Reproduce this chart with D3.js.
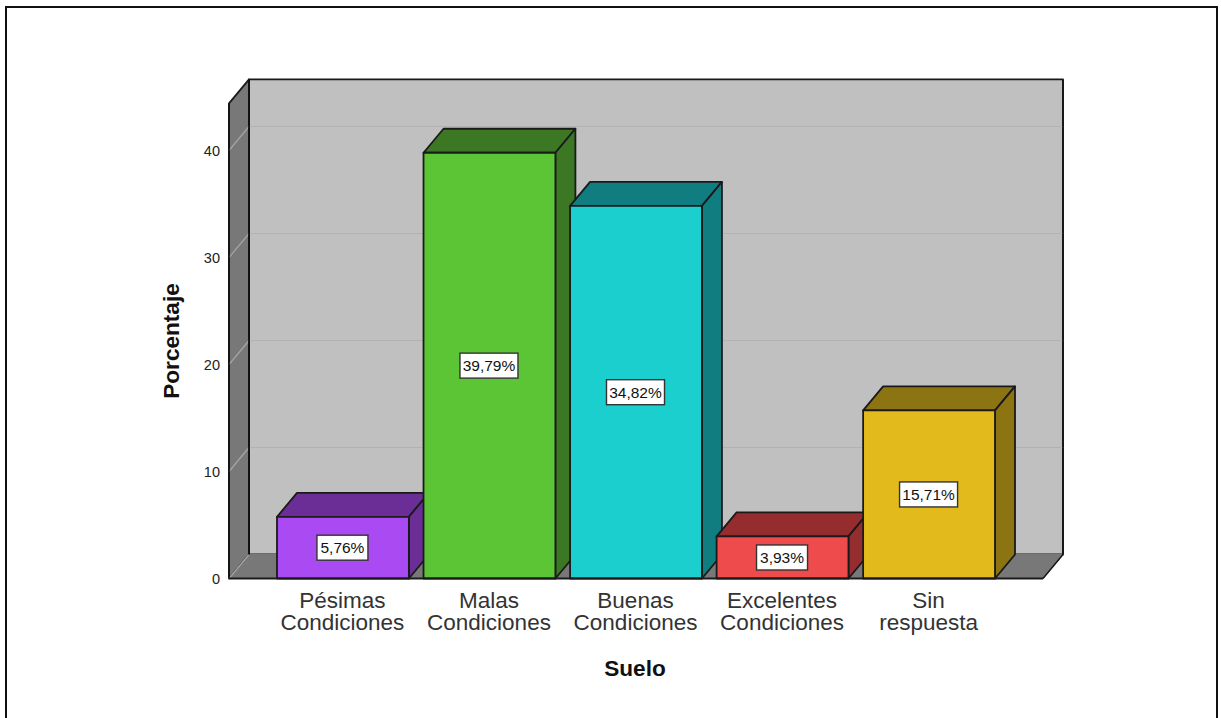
<!DOCTYPE html>
<html><head><meta charset="utf-8">
<script src="https://cdn.jsdelivr.net/npm/d3@7"></script>
<style>
html,body{margin:0;padding:0;background:#fff;overflow:hidden}
svg{display:block;font-family:"Liberation Sans",Arial,sans-serif}
</style></head><body><div id="c"></div>
<script>
const categories = [["Pésimas","Condiciones"],["Malas","Condiciones"],["Buenas","Condiciones"],["Excelentes","Condiciones"],["Sin","respuesta"]];
const values = [5.76,39.79,34.82,3.93,15.71];
const labels = ["5,76%","39,79%","34,82%","3,93%","15,71%"];
const frontColors = ["#a94af2","#5cc536","#1bcfcf","#ee4b4d","#e2ba1c"];
const sideColors = ["#6a2e96","#3c7824","#107d80","#952c2e","#8c7412"];
const yTicks = [0,10,20,30,40];
const yTitle = "Porcentaje", xTitle = "Suelo";

const W=1221,H=718, dx=20, dy=-24;
const plotLeft=229,plotRight=1043,y0=578.5,yMaxVal=44.4;
const y=d3.scaleLinear().domain([0,40]).range([y0,150.5]);
const x=d3.scaleBand().domain(d3.range(categories.length)).range([277,995]).paddingInner(0.1);
const plotTop=y(yMaxVal);
const svg=d3.select("#c").append("svg").attr("width",W).attr("height",H);
const pathGen=d3.line();
const poly=(g,pts,fill,stroke="#1a1a1a",sw=1.8)=>g.append("path").attr("d",pathGen(pts)+"Z")
  .attr("fill",fill).attr("stroke",stroke).attr("stroke-width",sw).attr("stroke-linejoin","round");

// frame
svg.append("rect").attr("x",6).attr("y",7).attr("width",1211).attr("height",730)
  .attr("fill","#fff").attr("stroke","#111").attr("stroke-width",2);

// walls
poly(svg,[[plotLeft+dx,plotTop+dy],[plotRight+dx,plotTop+dy],[plotRight+dx,y0+dy],[plotLeft+dx,y0+dy]],"#c0c0c0");
poly(svg,[[plotLeft,plotTop],[plotLeft+dx,plotTop+dy],[plotLeft+dx,y0+dy],[plotLeft,y0]],"#787878");
poly(svg,[[plotLeft,y0],[plotLeft+dx,y0+dy],[plotRight+dx,y0+dy],[plotRight,y0]],"#787878","#787878",1);

// gridlines
yTicks.forEach(t=>{
  if(t>0) svg.append("line").attr("x1",plotLeft+dx).attr("x2",plotRight+dx).attr("y1",y(t)+dy).attr("y2",y(t)+dy)
    .attr("stroke","#b2b2b2").attr("stroke-width",1.2);
  svg.append("line").attr("x1",plotLeft).attr("x2",plotLeft+dx).attr("y1",y(t)).attr("y2",y(t)+dy)
    .attr("stroke","#a6a6a6").attr("stroke-width",1.2);
});
// redraw edges over grid
svg.append("line").attr("x1",plotLeft+dx).attr("x2",plotLeft+dx).attr("y1",plotTop+dy).attr("y2",y0+dy).attr("stroke","#111").attr("stroke-width",1.8);
svg.append("line").attr("x1",plotRight+dx).attr("x2",plotRight+dx).attr("y1",plotTop+dy).attr("y2",y0+dy).attr("stroke","#111").attr("stroke-width",1.4);
svg.append("line").attr("x1",plotLeft).attr("x2",plotLeft).attr("y1",plotTop).attr("y2",y0).attr("stroke","#111").attr("stroke-width",1.6);
svg.append("line").attr("x1",plotRight).attr("x2",plotRight+dx).attr("y1",y0).attr("y2",y0+dy).attr("stroke","#111").attr("stroke-width",1.4);

// bars
values.forEach((v,i)=>{
  const g=svg.append("g");
  const a=x(i),b=x(i)+x.bandwidth(),t=y(v);
  poly(g,[[a,t],[a+dx,t+dy],[b+dx,t+dy],[b,t]],sideColors[i]);
  poly(g,[[b,t],[b+dx,t+dy],[b+dx,y0+dy],[b,y0]],sideColors[i]);
  poly(g,[[a,t],[b,t],[b,y0],[a,y0]],frontColors[i]);
});
svg.append("line").attr("x1",plotLeft).attr("x2",plotRight).attr("y1",y0).attr("y2",y0).attr("stroke","#1a1a1a").attr("stroke-width",1.8);

// value labels
values.forEach((v,i)=>{
  const cx=x(i)+x.bandwidth()/2-0.5, cy=(y(v)+y0)/2;
  const w=labels[i].length>5?58:51;
  svg.append("rect").attr("x",cx-w/2).attr("y",cy-12.5).attr("width",w).attr("height",25)
    .attr("fill","#fff").attr("stroke","#333").attr("stroke-width",1.4);
  svg.append("text").attr("x",cx).attr("y",cy+5.5).attr("text-anchor","middle")
    .attr("font-size",15.5).attr("fill","#111").text(labels[i]);
});

// y axis
const ay=svg.append("g").attr("transform",`translate(${plotLeft-9},0.5)`)
  .call(d3.axisLeft(y).tickValues(yTicks).tickSize(0).tickPadding(0));
ay.select(".domain").remove();
ay.selectAll("text").attr("font-size",14.5).attr("font-family","inherit").attr("fill","#222");

// x axis
const ax=svg.append("g").attr("transform",`translate(0,${y0})`)
  .call(d3.axisBottom(x).tickSize(0).tickFormat(""));
ax.select(".domain").remove();
ax.selectAll(".tick text").each(function(d){
  const t=d3.select(this).attr("font-size",22.5).attr("font-family","inherit").attr("fill","#333").attr("dy",0);
  t.attr("y",29.5);
  categories[d].forEach((s,j)=>t.append("tspan").attr("x",-0.5).attr("y",29.5+j*22).text(s));
});

// titles
svg.append("text").attr("x",635).attr("y",676).attr("text-anchor","middle").attr("font-size",22.6).attr("font-weight","bold").attr("fill","#111").text(xTitle);
svg.append("text").attr("transform","translate(179,341) rotate(-90)").attr("text-anchor","middle").attr("font-size",22.6).attr("font-weight","bold").attr("fill","#111").text(yTitle);
</script></body></html>
